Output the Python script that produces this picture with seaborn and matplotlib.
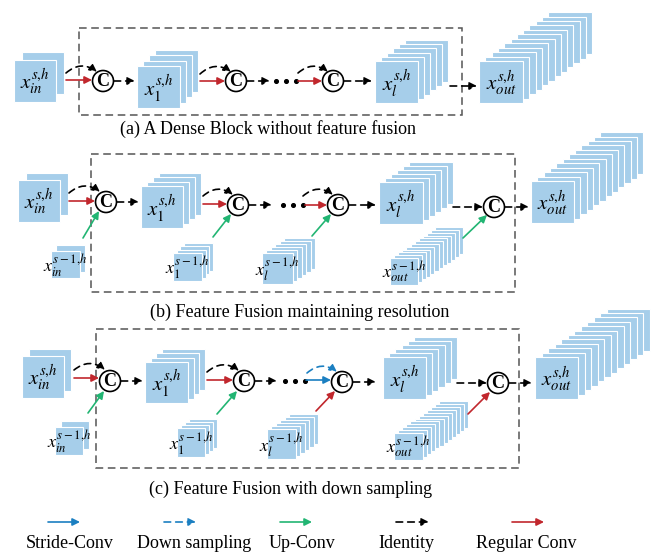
import matplotlib.pyplot as plt
import seaborn as sns
from matplotlib.patches import Rectangle, Circle, FancyArrowPatch

# text and layer counts of the diagram
captions = ["(a) A Dense Block without feature fusion",
            "(b) Feature Fusion maintaining resolution",
            "(c) Feature Fusion with down sampling"]
main_labels = [r"$x_{in}^{s{,}h}$", r"$x_{1}^{s{,}h}$", r"$x_{l}^{s{,}h}$", r"$x_{out}^{s{,}h}$"]
main_layers = [2, 4, 6, 12]
side_labels = [r"$x_{in}^{s-1{,}h}$", r"$x_{1}^{s-1{,}h}$", r"$x_{l}^{s-1{,}h}$", r"$x_{out}^{s-1{,}h}$"]
side_layers = [2, 4, 6, 12]
legend_labels = ["Stride-Conv", "Down sampling", "Up-Conv", "Identity", "Regular Conv"]
legend_colors = ["#1b7fc1", "#1b7fc1", "#22b573", "black", "#c1272d"]
legend_dashed = [False, True, False, True, False]

BOX = "#a6ceea"
RED = "#c1272d"
GREEN = "#22b573"
BLUE = "#1b7fc1"
DASH = (0, (4, 3))

sns.set_theme(style="white")
plt.rcParams['font.family'] = ['Liberation Serif', 'DejaVu Serif']
plt.rcParams['mathtext.fontset'] = 'stix'
plt.rcParams['text.color'] = 'black'

fig = plt.figure(figsize=(6.56, 5.54), dpi=100)
ax = fig.add_axes([0, 0, 1, 1])
ax.set_xlim(0, 656)
ax.set_ylim(554, 0)
ax.axis('off')


def stack(x, y, w, h, dx, dy, n, label, fs):
    # back layers first so the front one covers them
    for i in range(n - 1, -1, -1):
        ax.add_patch(Rectangle((x + i * dx, y - i * dy), w, h, facecolor=BOX,
                               edgecolor='white', lw=0.8, zorder=2))
    ax.text(x + w / 2, y + h / 2 + 1, label, fontsize=fs, ha='center', va='center', zorder=3)


def arrow(p0, p1, color='black', dashed=False, rad=0.0):
    a = FancyArrowPatch(p0, p1, arrowstyle='-|>', mutation_scale=11, color=color, lw=1.2,
                        linestyle=DASH if dashed else '-', shrinkA=0, shrinkB=0,
                        connectionstyle=f"arc3,rad={rad}", zorder=4)
    ax.add_patch(a)


def concat(x, y):
    ax.add_patch(Circle((x, y), 10.5, facecolor='white', edgecolor='black', lw=1.2, zorder=5))
    ax.text(x, y + 0.5, "C", fontsize=13, fontweight='bold', ha='center', va='center', zorder=6)


def dots(xs, y):
    ax.scatter(xs, [y] * len(xs), s=7, color='black', zorder=4)


def dashed_box(x0, y0, x1, y1):
    ax.add_patch(Rectangle((x0, y0), x1 - x0, y1 - y0, fill=False, edgecolor='#555555',
                           lw=1.1, linestyle=(0, (5, 3)), zorder=1))


# ---------- (a) ----------
dashed_box(79, 28, 462, 115)
main_a = [(14, 60, 42, 42, 8, 8), (137, 66, 43, 42, 6, 5.3),
          (375, 61, 43, 42, 6, 4.2), (479, 61, 44, 42, 6.3, 4.45)]
for (x, y, w, h, dx, dy), n, lab in zip(main_a, main_layers, main_labels):
    stack(x, y, w, h, dx, dy, n, lab, 15)
arrow((66, 80), (92, 80), RED)
arrow((66, 73), (97, 72), dashed=True, rad=-0.4)
concat(103, 81)
arrow((114, 81), (135, 81), dashed=True)
arrow((200, 81), (225, 81), RED)
arrow((200, 74), (231, 72), dashed=True, rad=-0.4)
concat(236, 81)
arrow((247, 81), (270, 81), dashed=True)
dots([276, 286, 296], 81)
arrow((298, 81), (322, 81), RED)
arrow((298, 73), (328, 72), dashed=True, rad=-0.4)
concat(333, 81)
arrow((344, 81), (372, 81), dashed=True)
arrow((450, 86), (477, 86), dashed=True)
ax.text(268, 129, captions[0], fontsize=13, ha='center', va='center')

# ---------- (b) ----------
dashed_box(91, 154, 515, 292)
main_b = [(18, 180, 42, 42, 8, 7), (141, 186, 42, 42, 6, 4.3),
          (379, 182, 44, 42, 6, 4), (531, 181, 43, 42, 6.3, 4.45)]
side_b = [(51, 251, 29, 27, 5, 6), (173, 253, 29, 28, 3.7, 3.3),
          (262, 253, 31, 31, 4.4, 3), (390, 258, 28, 27, 4.1, 2.8)]
for (x, y, w, h, dx, dy), n, lab in zip(main_b, main_layers, main_labels):
    stack(x, y, w, h, dx, dy, n, lab, 15)
for (x, y, w, h, dx, dy), n, lab in zip(side_b, side_layers, side_labels):
    stack(x, y, w, h, dx, dy, n, lab, 13)
arrow((69, 201), (95, 201), RED)
arrow((69, 193), (100, 192), dashed=True, rad=-0.4)
arrow((83, 238), (99, 211), GREEN)
concat(106, 202)
arrow((117, 202), (139, 202), dashed=True)
arrow((203, 204), (227, 204), RED)
arrow((203, 196), (233, 195), dashed=True, rad=-0.4)
arrow((213, 237), (231, 214), GREEN)
concat(238, 205)
arrow((249, 205), (272, 205), dashed=True)
dots([283, 293, 303], 205)
arrow((305, 205), (327, 205), RED)
arrow((303, 196), (333, 195), dashed=True, rad=-0.4)
arrow((312, 236), (331, 214), GREEN)
concat(338, 205)
arrow((349, 205), (376, 205), dashed=True)
arrow((453, 207), (483, 207), dashed=True)
arrow((463, 238), (487, 215), GREEN)
concat(494, 207)
arrow((505, 207), (529, 207), dashed=True)
ax.text(300, 312, captions[1], fontsize=13, ha='center', va='center')

# ---------- (c) ----------
dashed_box(96, 329, 519, 468)
main_c = [(22, 356, 42, 42, 7, 7), (145, 362, 43, 41, 5.7, 4.3),
          (383, 357, 43, 42, 6.2, 4), (535, 357, 43, 42, 6.5, 4.4)]
side_c = [(55, 427, 28, 28, 6, 6), (177, 428, 28, 29, 4, 3),
          (267, 429, 29, 30, 4.4, 3), (394, 433, 29, 27, 4.1, 2.9)]
for (x, y, w, h, dx, dy), n, lab in zip(main_c, main_layers, main_labels):
    stack(x, y, w, h, dx, dy, n, lab, 15)
for (x, y, w, h, dx, dy), n, lab in zip(side_c, side_layers, side_labels):
    stack(x, y, w, h, dx, dy, n, lab, 13)
arrow((74, 378), (99, 378), RED)
arrow((74, 370), (105, 370), dashed=True, rad=-0.4)
arrow((88, 413), (104, 391), GREEN)
concat(110, 381)
arrow((121, 381), (143, 381), dashed=True)
arrow((207, 380), (233, 380), RED)
arrow((207, 372), (239, 371), dashed=True, rad=-0.4)
arrow((217, 414), (237, 391), GREEN)
concat(244, 381)
arrow((255, 381), (277, 381), dashed=True)
dots([285, 295, 305], 381)
arrow((306, 380), (331, 380), BLUE)
arrow((307, 373), (337, 372), BLUE, dashed=True, rad=-0.4)
arrow((316, 411), (335, 391), RED)
concat(342, 382)
arrow((353, 382), (376, 382), dashed=True)
arrow((457, 383), (487, 383), dashed=True)
arrow((468, 414), (490, 392), RED)
concat(498, 383)
arrow((509, 383), (532, 383), dashed=True)
ax.text(291, 489, captions[2], fontsize=13, ha='center', va='center')

# ---------- legend ----------
legend_x = [(48, 80), (164, 196), (280, 312), (396, 429), (512, 544)]
label_x = [70, 194, 302, 406, 526]
for (x0, x1), lx, lab, col, dsh in zip(legend_x, label_x, legend_labels, legend_colors, legend_dashed):
    arrow((x0, 522), (x1, 522), col, dashed=dsh)
    ax.text(lx, 543, lab, fontsize=13, ha='center', va='center')

fig.savefig("out.png", dpi=100)
